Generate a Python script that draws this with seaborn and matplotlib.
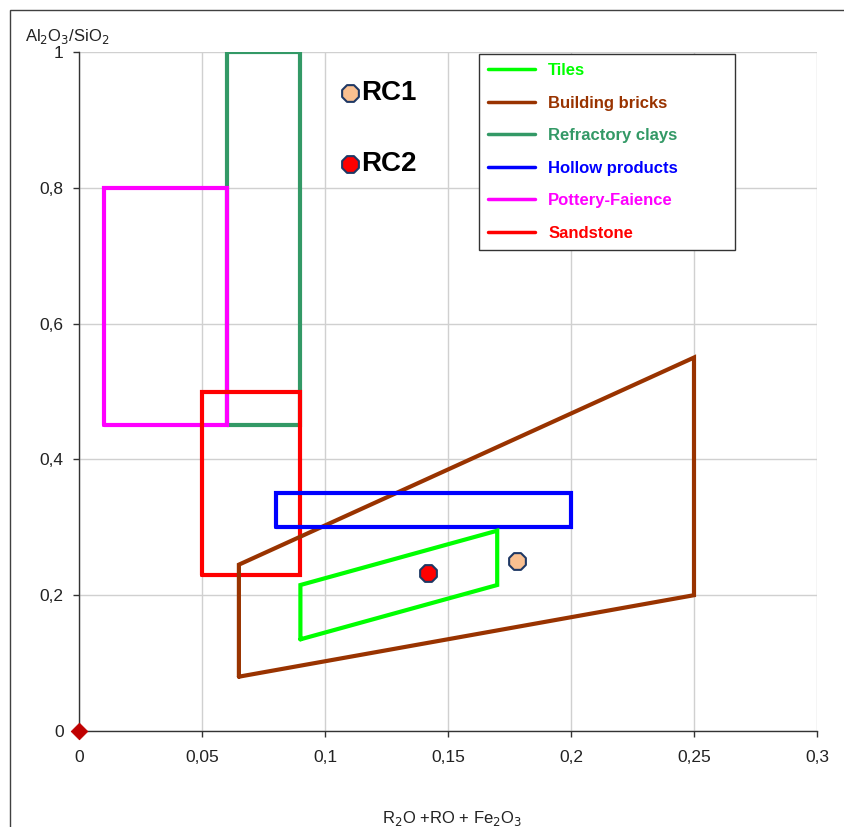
import matplotlib
matplotlib.use("Agg")
import matplotlib.pyplot as plt
import seaborn as sns
import pandas as pd
from matplotlib.lines import Line2D
from matplotlib.patches import Rectangle
from matplotlib.ticker import FuncFormatter

sns.set_style("white")
plt.rcParams['font.family'] = ['Liberation Sans', 'DejaVu Sans']

# ---- data ----
tiles_x = [0.09, 0.09, 0.17, 0.17, 0.09]
tiles_y = [0.135, 0.215, 0.295, 0.215, 0.135]
bricks_x = [0.065, 0.065, 0.25, 0.25, 0.065]
bricks_y = [0.08, 0.245, 0.55, 0.20, 0.08]
refr_x = [0.06, 0.06, 0.09, 0.09, 0.06]
refr_y = [0.45, 1.0, 1.0, 0.45, 0.45]
hollow_x = [0.08, 0.08, 0.20, 0.20, 0.08]
hollow_y = [0.30, 0.35, 0.35, 0.30, 0.30]
pottery_x = [0.01, 0.01, 0.06, 0.06, 0.01]
pottery_y = [0.45, 0.80, 0.80, 0.45, 0.45]
sand_x = [0.05, 0.05, 0.09, 0.09, 0.05]
sand_y = [0.23, 0.50, 0.50, 0.23, 0.23]

series_names = ["Tiles", "Building bricks", "Refractory clays", "Hollow products",
                "Pottery-Faience", "Sandstone"]
series_colors = ["#00FF00", "#993300", "#339966", "#0000FF", "#FF00FF", "#FF0000"]

samples = ["RC1", "RC2"]
samples_x = [0.178, 0.142]
samples_y = [0.250, 0.233]
samples_colors = ["#FAC090", "#FF0000"]

label_pts_x = [0.110, 0.110]
label_pts_y = [0.94, 0.835]

origin_x = [0.0]
origin_y = [0.0]

x_ticks = [0, 0.05, 0.1, 0.15, 0.2, 0.25, 0.3]
y_ticks = [0, 0.2, 0.4, 0.6, 0.8, 1.0]

# ---- figure ----
fig = plt.figure(figsize=(8.45, 8.27), dpi=100)
ax = fig.add_axes([79/845, 1-731/827, (817-79)/845, (731-52)/827])

ax.set_xlim(0, 0.3)
ax.set_ylim(0, 1)
ax.set_xticks(x_ticks)
ax.set_yticks(y_ticks)
fmt = FuncFormatter(lambda v, p: ("%g" % round(v, 3)).replace(".", ","))
ax.xaxis.set_major_formatter(fmt)
ax.yaxis.set_major_formatter(fmt)
ax.grid(True, color="#D0D0D0", lw=1)
ax.set_axisbelow(True)
for s in ["top", "right"]:
    ax.spines[s].set_visible(False)
for s in ["left", "bottom"]:
    ax.spines[s].set_color("#333333")
    ax.spines[s].set_linewidth(1)
ax.tick_params(axis="both", direction="out", length=4, width=1, color="#333333",
               labelsize=12.5, labelcolor="#222222", bottom=True, left=True)
ax.tick_params(axis="x", pad=10)
ax.tick_params(axis="y", pad=7)

polys = [(tiles_x, tiles_y), (bricks_x, bricks_y), (refr_x, refr_y),
         (hollow_x, hollow_y), (pottery_x, pottery_y), (sand_x, sand_y)]
order = [2, 4, 5, 1, 3, 0]
for i in order:
    px, py = polys[i]
    df = pd.DataFrame({"x": px, "y": py})
    sns.lineplot(data=df, x="x", y="y", sort=False, estimator=None, ax=ax,
                 color=series_colors[i], lw=3, solid_joinstyle="miter")

for i in range(2):
    sns.scatterplot(x=[samples_x[i]], y=[samples_y[i]], ax=ax, marker="8", s=170,
                    color=samples_colors[i], edgecolor="#1F3864", linewidth=1.5, zorder=5)
    sns.scatterplot(x=[label_pts_x[i]], y=[label_pts_y[i]], ax=ax, marker="8", s=170,
                    color=samples_colors[i], edgecolor="#1F3864", linewidth=1.5, zorder=5)
    ax.text(label_pts_x[i] + 0.0045, label_pts_y[i], samples[i], fontsize=20,
            fontweight="bold", va="center", ha="left", color="black")

sns.scatterplot(x=origin_x, y=origin_y, ax=ax, marker="D", s=70, color="#C00000",
                edgecolor="#C00000", zorder=6, clip_on=False)

ax.set_xlabel("")
ax.set_ylabel("")

handles = [Line2D([0], [0], color=c, lw=2.5) for c in series_colors]
ax_w = 817 - 79
ax_h = 731 - 52
leg = ax.legend(handles, series_names, loc="upper left", mode="expand",
                bbox_to_anchor=((479-79)/ax_w, (731-250)/ax_h, (735-479)/ax_w, (250-54)/ax_h),
                prop={"weight": "bold", "size": 12}, labelcolor=series_colors,
                frameon=True, fancybox=False, edgecolor="#333333", framealpha=1,
                handlelength=2.8, labelspacing=1.05, borderpad=0.55,
                borderaxespad=0, handletextpad=0.8)
leg.get_frame().set_linewidth(1)

fig.text(25/845, 1-36/827, r"Al$_2$O$_3$/SiO$_2$", fontsize=12, ha="left",
         va="center", color="#222222")
fig.text(452/845, 1-818/827, r"R$_2$O +RO + Fe$_2$O$_3$", fontsize=12, ha="center",
         va="center", color="#222222")

fig.patches.append(Rectangle((10/845, -0.1), 1.2, 1.1 - 10/827, transform=fig.transFigure,
                             fill=False, edgecolor="#404040", lw=1))

fig.savefig("out.png", dpi=100)
